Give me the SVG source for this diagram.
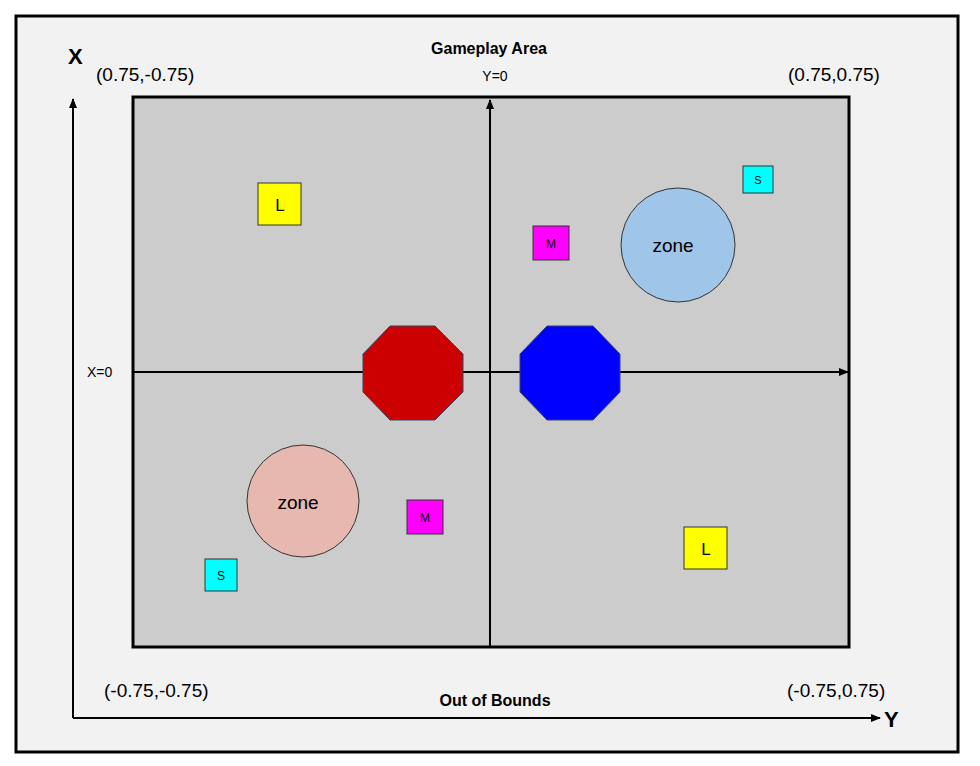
<svg xmlns="http://www.w3.org/2000/svg" width="980" height="766" viewBox="0 0 980 766">
<style>
text{font-family:"Liberation Sans",Arial,sans-serif;fill:#000}
.ax{stroke:#000;stroke-width:2;fill:none}
.sq{stroke:#333;stroke-width:1}
</style>
<defs><marker id="ah" markerWidth="10" markerHeight="8" refX="9" refY="4" orient="auto" markerUnits="userSpaceOnUse"><path d="M0,0L10,4L0,8z" fill="#000"/></marker></defs>
<rect x="0" y="0" width="980" height="766" fill="#fff"/>
<rect id="frame" x="16" y="16" width="942" height="736" fill="#f2f2f2" stroke="#000" stroke-width="3"/>
<rect id="area" x="133" y="97" width="716" height="550" fill="#cccccc" stroke="#000" stroke-width="3"/>
<g id="connectors">
<line class="ax" x1="490" y1="647" x2="490" y2="100" marker-end="url(#ah)"/>
<line class="ax" x1="133" y1="372" x2="848" y2="372" marker-end="url(#ah)"/>
<line class="ax" x1="73" y1="718" x2="73" y2="99" marker-end="url(#ah)"/>
<line class="ax" x1="73" y1="718" x2="880" y2="718" marker-end="url(#ah)"/>
</g>
<g id="red"><polygon points="390,326 435,326 463,354 463,392 435,420 390,420 363,392 363,354" fill="#cc0000" stroke="#334466" stroke-width="1"/></g>
<g id="blue"><polygon points="547,326 593,326 620,354 620,392 593,420 547,420 520,392 520,354" fill="#0000ff" stroke="#334466" stroke-width="1"/></g>
<g id="zone1"><circle cx="678" cy="245" r="57" fill="#9fc5e8" stroke="#333"/><text x="673" y="252" font-size="19" text-anchor="middle">zone</text></g>
<g id="zone2"><circle cx="303" cy="501" r="56" fill="#e6b8af" stroke="#333"/><text x="298" y="509" font-size="19" text-anchor="middle">zone</text></g>
<g id="L1"><rect class="sq" x="258" y="183" width="43" height="42" fill="#ffff00"/><text x="280" y="211" font-size="17" text-anchor="middle">L</text></g>
<g id="L2"><rect class="sq" x="684" y="527" width="43" height="42" fill="#ffff00"/><text x="706" y="555" font-size="17" text-anchor="middle">L</text></g>
<g id="M1"><rect class="sq" x="533" y="226" width="36" height="34" fill="#ff00ff"/><text x="551" y="248" font-size="12" text-anchor="middle">M</text></g>
<g id="M2"><rect class="sq" x="407" y="500" width="36" height="34" fill="#ff00ff"/><text x="425" y="522" font-size="12" text-anchor="middle">M</text></g>
<g id="S1"><rect class="sq" x="743" y="166" width="30" height="27" fill="#00ffff"/><text x="758" y="184" font-size="11" text-anchor="middle">S</text></g>
<g id="S2"><rect class="sq" x="205" y="559" width="32" height="32" fill="#00ffff"/><text x="221" y="580" font-size="12" text-anchor="middle">S</text></g>
<g id="labels">
<text x="489" y="54" font-size="16" font-weight="bold" text-anchor="middle">Gameplay Area</text>
<text x="495" y="81" font-size="14" text-anchor="middle">Y=0</text>
<text x="87" y="377" font-size="14">X=0</text>
<text x="68" y="64" font-size="22" font-weight="bold">X</text>
<text x="884" y="727" font-size="22" font-weight="bold">Y</text>
<text x="96" y="81" font-size="19">(0.75,-0.75)</text>
<text x="788" y="81" font-size="19">(0.75,0.75)</text>
<text x="104" y="697" font-size="19">(-0.75,-0.75)</text>
<text x="787" y="697" font-size="19">(-0.75,0.75)</text>
<text x="495" y="706" font-size="16" font-weight="bold" text-anchor="middle">Out of Bounds</text>
</g>
</svg>
